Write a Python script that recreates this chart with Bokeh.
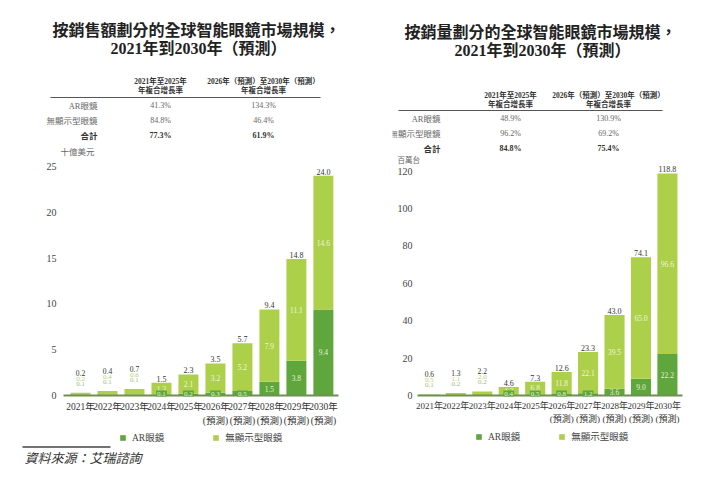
from bokeh.plotting import figure
from bokeh.models import (ColumnDataSource, FixedTicker, Label, Legend, LegendItem,
                          BoxAnnotation, Range1d)
from bokeh.layouts import row
from bokeh.embed import file_html
from bokeh.resources import INLINE
from bokeh.core.properties import value

# ---------------- data ----------------
years = ["2021年", "2022年", "2023年", "2024年", "2025年",
         "2026年", "2027年", "2028年", "2029年", "2030年"]
forecast = [False, False, False, False, False, True, True, True, True, True]
forecast_mark = "(預測)"
series_names = ["AR眼鏡", "無顯示型眼鏡"]

sales_ar = [0.1, 0.1, 0.1, 0.1, 0.2, 0.3, 0.5, 1.5, 3.8, 9.4]
sales_nd = [0.2, 0.4, 0.6, 1.3, 2.1, 3.2, 5.2, 7.9, 11.1, 14.6]
sales_total = [0.2, 0.4, 0.7, 1.5, 2.3, 3.5, 5.7, 9.4, 14.8, 24.0]
sales_ticks = [0, 5, 10, 15, 20, 25]

units_ar = [0.1, 0.2, 0.2, 0.4, 0.5, 0.8, 1.2, 3.6, 9.0, 22.2]
units_nd = [0.5, 1.1, 2.0, 4.2, 6.8, 11.8, 22.1, 39.5, 65.0, 96.6]
units_total = [0.6, 1.3, 2.2, 4.6, 7.3, 12.6, 23.3, 43.0, 74.1, 118.8]
units_ticks = [0, 20, 40, 60, 80, 100, 120]

table_rows = ["AR眼鏡", "無顯示型眼鏡", "合計"]
table_head_1 = ["2021年至2025年", "年複合增長率"]
table_head_2 = ["2026年（預測）至2030年（預測）", "年複合增長率"]
sales_cagr_1 = ["41.3%", "84.8%", "77.3%"]
sales_cagr_2 = ["134.3%", "46.4%", "61.9%"]
units_cagr_1 = ["48.9%", "96.2%", "84.8%"]
units_cagr_2 = ["130.9%", "69.2%", "75.4%"]

sales_title = ["按銷售額劃分的全球智能眼鏡市場規模，", "2021年到2030年（預測）"]
units_title = ["按銷量劃分的全球智能眼鏡市場規模，", "2021年到2030年（預測）"]
sales_unit = "十億美元"
units_unit = "百萬台"
source_note = "資料來源：艾瑞諮詢"

# ---------------- style ----------------
DARK = "#5fa63c"
LIGHT = "#add04a"
AXIS = "#6f8f55"
SERIF = "Liberation Serif, Noto Sans CJK TC"
SANS = "Noto Sans CJK TC"
PANEL_H = 466
BASE_Y = 395          # pixel row of the value 0


def make_panel(cfg, ar, nd, total, ticks, title, unit, c1, c2):
    W = cfg["width"]
    bl, br = cfg["bl"], cfg["br"]
    a0, a1 = cfg["area"]            # pixel columns of the category span
    c0, c1x = cfg["xr"]              # category coordinates at those columns
    kx = (a1 - a0) / (c1x - c0)
    f_left = cfg["page_x"] + bl
    f_right = cfg["page_x"] + W - br
    x0 = c0 - (a0 - f_left) / kx
    x1 = c1x + (f_right - a1) / kx
    ky = cfg["ky"]
    y0 = -(PANEL_H - BASE_Y) / ky
    y1 = BASE_Y / ky
    p = figure(width=W, height=PANEL_H, x_range=Range1d(x0, x1), y_range=Range1d(y0, y1),
               output_backend="svg", toolbar_location=None,
               min_border_left=bl, min_border_right=br,
               min_border_top=0, min_border_bottom=0)
    p.outline_line_color = None
    p.grid.visible = False
    p.xaxis.visible = False

    def X(px):
        return x0 + (px - f_left) / kx

    def Y(py):
        return (BASE_Y - py) / ky

    xs = list(range(len(years)))
    src = ColumnDataSource(dict(x=xs, ar=ar, nd=nd))
    rs = p.vbar_stack(["ar", "nd"], x="x", width=cfg["bw"], color=[DARK, LIGHT],
                      line_color=None, source=src)
    p.segment(x0=[c0], x1=[c1x], y0=[0], y1=[0], line_color=AXIS, line_width=2)

    tops = [a + n for a, n in zip(ar, nd)]
    fmt = lambda v: f"{v:.1f}"
    tiny = [i for i in xs if i < 3]
    boxed = [i for i in xs if 3 <= i < 7]
    big = [i for i in xs if i >= 7]
    common = dict(text_align="center", text_font=value(SERIF))

    p.text(x=tiny, y=[tops[i] for i in tiny], text=[fmt(total[i]) for i in tiny],
           y_offset=-20, text_baseline="middle", text_font_size="7.5px",
           text_color="#333333", **common)
    p.text(x=tiny, y=[tops[i] for i in tiny], text=[fmt(nd[i]) for i in tiny],
           y_offset=-14, text_baseline="middle", text_font_size="7px",
           text_color="#b3d36a", **common)
    p.text(x=tiny, y=[tops[i] for i in tiny], text=[fmt(ar[i]) for i in tiny],
           y_offset=-9, text_baseline="middle", text_font_size="7px",
           text_color="#9dbd86", **common)
    rest = boxed + big
    p.text(x=rest, y=[tops[i] for i in rest], text=[fmt(total[i]) for i in rest],
           y_offset=-1, text_baseline="bottom", text_font_size="8px",
           text_color="#333333", **common)
    p.text(x=rest, y=[ar[i] + nd[i] / 2 for i in rest], text=[fmt(nd[i]) for i in rest],
           text_baseline="middle", text_font_size="7.5px", text_color="#eef5dc", **common)
    p.text(x=big, y=[ar[i] / 2 for i in big], text=[fmt(ar[i]) for i in big],
           text_baseline="middle", text_font_size="7.5px", text_color="#e4f0d8", **common)
    p.text(x=boxed, y=[0 for i in boxed], text=[fmt(ar[i]) for i in boxed],
           y_offset=-2, text_baseline="middle", text_font_size="7px",
           text_color="#e4f0d8", background_fill_color=DARK, padding=1, **common)

    # category labels under the baseline
    p.text(x=xs, y=[Y(cfg["xl_y"][0])] * len(xs), text=years, text_baseline="middle",
           text_font_size=cfg["xfs"], text_color="#333333", **common)
    fx = [i for i in xs if forecast[i]]
    p.text(x=fx, y=[Y(cfg["xl_y"][1])] * len(fx), text=[forecast_mark] * len(fx),
           text_baseline="middle", text_font_size=cfg["xfs"], text_color="#333333", **common)

    yax = p.yaxis[0]
    yax.fixed_location = c0
    yax.ticker = FixedTicker(ticks=ticks)
    yax.axis_line_color = None
    yax.major_tick_line_color = None
    yax.minor_tick_line_color = None
    yax.major_tick_out = 0
    yax.major_tick_in = 0
    yax.major_label_standoff = cfg["ystand"]
    yax.major_label_text_font = SERIF
    yax.major_label_text_font_size = "10px"
    yax.major_label_text_color = "#444444"

    legend = Legend(items=[LegendItem(label=series_names[0], renderers=[rs[0]]),
                           LegendItem(label=series_names[1], renderers=[rs[1]])],
                    orientation="horizontal",
                    location=(cfg["leg_x"] - f_left, PANEL_H - cfg["leg_bottom"]),
                    border_line_color=None, background_fill_alpha=0,
                    label_text_font=SERIF, label_text_font_size="9.5px",
                    label_text_color="#444444", glyph_width=7, glyph_height=7,
                    label_height=12, label_standoff=6, spacing=cfg["lspace"],
                    margin=0, padding=1)
    p.add_layout(legend)

    def lab(px, py, text, size, align="center", style="normal", font=SERIF, color="#333333"):
        p.add_layout(Label(x=X(px), y=Y(py), text=text, text_align=align,
                           text_baseline="middle", text_font=font,
                           text_font_size=size, text_font_style=style,
                           text_color=color))

    tc = cfg["title_c"]
    lab(tc[0][0], tc[0][1], title[0], "16px", style="bold", font=SANS, color="#222222")
    lab(tc[1][0], tc[1][1], title[1], "16px", style="bold", color="#222222")
    hy = cfg["head_y"]
    for k, t in enumerate(table_head_1):
        lab(cfg["col1"], hy[k], t, "7.5px", style="bold")
    for k, t in enumerate(table_head_2):
        lab(cfg["col2"], hy[k], t, "7.5px", style="bold")
    ly = cfg["line_y"]
    p.add_layout(BoxAnnotation(left=X(cfg["line_x"][0]), right=X(cfg["line_x"][1]),
                               bottom=Y(ly + 0.5), top=Y(ly - 0.5),
                               fill_color="#555555", fill_alpha=1, line_color=None))
    for k, rname in enumerate(table_rows):
        ry = cfg["row_y"][k]
        bold = "bold" if k == 2 else "normal"
        col = "#333333" if k == 2 else "#666666"
        lab(cfg["row_x"], ry, rname, "8.5px", align="right", style=bold, color=col)
        lab(cfg["col1"], ry, c1[k], "8px", style=bold, color=col)
        lab(cfg["col2"], ry, c2[k], "8px", style=bold, color=col)
    lab(cfg["unit_xy"][0], cfg["unit_xy"][1], unit, cfg["unit_fs"], align="left",
        color="#666666")
    return p, X, Y


left_cfg = dict(width=356, page_x=0, bl=20, br=4, ky=9.16, area=(63, 338),
                xr=(-0.63, 9.56), bw=0.74, xfs="9.5px", ystand=7,
                lspace=48, leg_x=119, leg_bottom=444,
                xl_y=(406, 420),
                title_c=[(196, 28), (198, 48)], head_y=[81, 90], col1=160, col2=263,
                line_y=97, line_x=(50, 320), row_y=[105, 120, 135], row_x=97,
                unit_xy=(60, 151), unit_fs="8.5px")
right_cfg = dict(width=348, page_x=356, bl=36, br=4, ky=1.869, area=(417, 682),
                 xr=(-0.45, 9.57), bw=0.76, xfs="9px", ystand=5,
                 lspace=38, leg_x=475, leg_bottom=443,
                 xl_y=(405, 418),
                 title_c=[(540, 30), (542, 50)], head_y=[95, 104], col1=510, col2=608,
                 line_y=110, line_x=(398, 662), row_y=[118, 133, 148], row_x=440,
                 unit_xy=(397, 160), unit_fs="7.5px")

p1, X1, Y1 = make_panel(left_cfg, sales_ar, sales_nd, sales_total, sales_ticks,
                        sales_title, sales_unit, sales_cagr_1, sales_cagr_2)
p2, X2, Y2 = make_panel(right_cfg, units_ar, units_nd, units_total, units_ticks,
                        units_title, units_unit, units_cagr_1, units_cagr_2)

# source note under the left chart
p1.add_layout(BoxAnnotation(left=X1(22), right=X1(110), bottom=Y1(447.2), top=Y1(445.8),
                            fill_color="#444444", fill_alpha=1, line_color=None))
p1.add_layout(Label(x=X1(24), y=Y1(457), text=source_note, text_align="left",
                    text_baseline="middle", text_font=SANS, text_font_size="13px",
                    text_font_style="italic", text_color="#333333"))

layout = row(p1, p2)
open("out.html", "w").write(file_html(layout, INLINE))
